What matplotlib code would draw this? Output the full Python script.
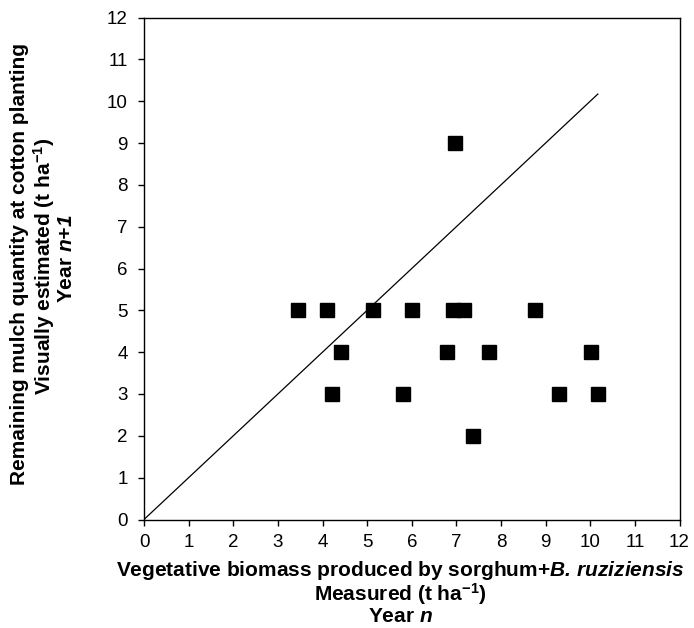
import numpy as np
import matplotlib
matplotlib.use('Agg')
import matplotlib.pyplot as plt

# measured biomass (year n) vs visually estimated remaining mulch (year n+1), t/ha
measured = [3.46, 4.09, 5.14, 6.00, 6.93, 7.17, 8.76,
            4.41, 6.80, 7.73, 10.02,
            4.22, 5.80, 9.30, 10.17,
            7.37, 6.98]
estimated = [5, 5, 5, 5, 5, 5, 5,
             4, 4, 4, 4,
             3, 3, 3, 3,
             2, 9]
ticks = list(range(0, 13))

plt.rcParams['font.family'] = ['Liberation Sans', 'DejaVu Sans']
plt.rcParams['mathtext.fontset'] = 'custom'
plt.rcParams['mathtext.rm'] = 'Liberation Sans'
plt.rcParams['mathtext.bf'] = 'Liberation Sans:bold'
plt.rcParams['mathtext.it'] = 'Liberation Sans:italic'
plt.rcParams['mathtext.bfit'] = 'Liberation Sans:bold:italic'

W, H = 694, 628
fig = plt.figure(figsize=(W / 100, H / 100), dpi=100)
ax = fig.add_axes([144 / W, 1 - 519.5 / H, 535.5 / W, 502 / H])

# 1:1 line up to the largest measured value
xmax = max(measured)
ax.plot([0, xmax], [0, xmax], color='black', lw=0.9)
ax.plot(measured, estimated, linestyle='none', marker='s', markersize=9.6,
        color='black', clip_on=False)

ax.set_xlim(0, 12)
ax.set_ylim(0, 12)
ax.set_xticks(ticks)
ax.set_yticks(ticks)
ax.tick_params(direction='out', length=4.3, width=1, labelsize=13.5, colors='black')
ax.tick_params(axis='x', pad=6)
ax.tick_params(axis='y', pad=7.5)
for s in ax.spines.values():
    s.set_linewidth(1)
    s.set_color('black')

fs = 15
# x label, three lines
xc = 400 / W
fig.text(xc, 1 - 570 / H, r'Vegetative biomass produced by sorghum+$\mathbfit{B.\,ruziziensis}$',
         ha='center', va='center', fontsize=fs, fontweight='bold')
fig.text(xc, 1 - 594 / H, r'Measured (t ha$^{\mathbf{-1}}$)',
         ha='center', va='center', fontsize=fs, fontweight='bold')
fig.text(xc, 1 - 617 / H, r'Year $\mathbfit{n}$',
         ha='center', va='center', fontsize=fs, fontweight='bold')

# y label, three lines
fig.text(20 / W, 1 - 264 / H, 'Remaining mulch quantity at cotton planting',
         ha='center', va='center', rotation=90, fontsize=fs, fontweight='bold')
fig.text(44 / W, 1 - 266 / H, r'Visually estimated (t ha$^{\mathbf{-1}}$)',
         ha='center', va='center', rotation=90, fontsize=fs, fontweight='bold')
fig.text(67 / W, 1 - 259 / H, r'Year $\mathbfit{n{+}1}$',
         ha='center', va='center', rotation=90, fontsize=fs, fontweight='bold')

fig.savefig('out.png', dpi=100)
